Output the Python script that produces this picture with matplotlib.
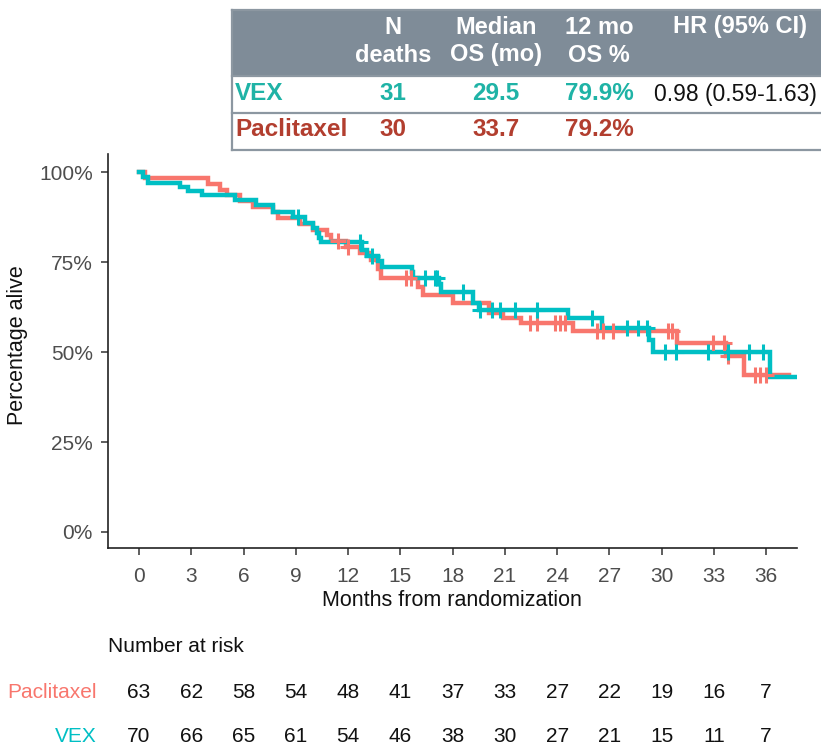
import matplotlib
matplotlib.use('Agg')
import matplotlib.pyplot as plt
import numpy as np
from matplotlib.transforms import blended_transform_factory
from matplotlib.patches import Rectangle
from matplotlib.lines import Line2D

plt.rcParams['font.family'] = ['Liberation Sans', 'DejaVu Sans']

# ---------------- data ----------------
pac_t = [0, 0.34, 3.96, 4.65, 5.05, 5.8, 6.54, 7.7, 8.0, 9.24, 10.0, 10.8, 11.0, 11.9,
         12.7, 13.3, 13.7, 13.9, 16.0, 16.3, 18.0, 20.1, 20.9, 21.9, 24.9, 30.9, 33.7, 34.7, 37.3]
pac_s = [100, 98.4, 96.8, 95.2, 93.7, 92.1, 90.5, 88.9, 87.3, 85.7, 84.1, 82.5, 80.9, 79.3,
         77.7, 75.5, 73.0, 70.6, 68.2, 65.9, 63.8, 61.0, 59.6, 58.2, 56.0, 52.5, 48.8, 43.7, 43.7]
pac_cens = [11.42, 12.0, 15.3, 15.6, 22.45, 22.85, 23.88, 24.17, 24.45, 26.29, 26.64, 27.21,
            30.37, 30.6, 32.95, 33.6, 33.8, 35.36, 35.65, 36.0]

vex_t = [0, 0.23, 0.5, 2.35, 2.8, 3.6, 5.5, 6.7, 7.7, 8.84, 9.53, 10.0, 10.2, 10.35, 10.45,
         12.8, 13.1, 13.7, 13.95, 15.65, 15.75, 17.2, 17.35, 19.2, 19.5, 24.6, 26.6, 29.3, 29.5,
         36.2, 37.8]
vex_s = [100, 98.6, 97.1, 95.9, 94.9, 93.6, 92.2, 90.8, 89.1, 87.7, 86.0, 84.6, 83.2, 81.8, 80.5,
         78.3, 76.8, 75.3, 73.8, 72.2, 70.6, 69.0, 66.8, 63.6, 61.8, 59.5, 56.7, 53.5, 50.0,
         43.2, 43.2]
vex_cens = [9.13, 12.69, 13.38, 16.42, 16.99, 17.1, 18.6, 19.6, 20.26, 20.72, 21.58, 22.85,
            26.0, 28.01, 28.65, 29.16, 30.2, 30.8, 32.65, 33.8, 35.0, 35.8]

risk_times = [0, 3, 6, 9, 12, 15, 18, 21, 24, 27, 30, 33, 36]
risk_pac = [63, 62, 58, 54, 48, 41, 37, 33, 27, 22, 19, 16, 7]
risk_vex = [70, 66, 65, 61, 54, 46, 38, 30, 27, 21, 15, 11, 7]

tbl_header = ["N\ndeaths", "Median\nOS (mo)", "12 mo\nOS %", "HR (95% CI)"]
tbl_rows = ["VEX", "Paclitaxel"]
tbl_deaths = ["31", "30"]
tbl_median = ["29.5", "33.7"]
tbl_12mo = ["79.9%", "79.2%"]
tbl_hr = "0.98 (0.59-1.63)"

C_PAC = '#F8766D'
C_VEX = '#00BFC4'
T_PAC = '#B23E2F'
T_VEX = '#1FB3A6'

# ---------------- figure ----------------
W, H = 821, 751
fig = plt.figure(figsize=(W / 100, H / 100), dpi=100)

def fx(px):
    return px / W

def fy(py):
    return 1 - py / H

ax = fig.add_axes([fx(108), fy(548), fx(797) - fx(108), fy(154) - fy(548)])

def draw_group(t, s, cens, color):
    t = np.asarray(t); s = np.asarray(s)
    ax.step(t, s, where='post', color=color, lw=3.2, solid_joinstyle='miter', zorder=3)
    idx = np.searchsorted(t, cens, side='right') - 1
    ax.plot(cens, s[idx], ls='none', marker='+', ms=12, mew=2.2, color=color, zorder=4)

draw_group(pac_t, pac_s, pac_cens, C_PAC)
draw_group(vex_t, vex_s, vex_cens, C_VEX)

ax.set_xlim(-1.78, 37.77)
ax.set_ylim(-4.45, 105.1)
ax.set_xticks(risk_times)
ax.set_yticks([0, 25, 50, 75, 100])
ax.set_yticklabels(['0%', '25%', '50%', '75%', '100%'])
for sp in ['top', 'right']:
    ax.spines[sp].set_visible(False)
for sp in ['left', 'bottom']:
    ax.spines[sp].set_linewidth(1.2)
    ax.spines[sp].set_color('#222222')
ax.tick_params(axis='both', length=5, width=1.1, color='#333333',
               labelcolor='#4D4D4D', labelsize=15)
ax.tick_params(axis='x', pad=9)
ax.tick_params(axis='y', pad=6)

fig.text(fx(452), fy(600), 'Months from randomization', ha='center', va='center',
         fontsize=15.5, color='#111111')
fig.text(fx(18), fy(345), 'Percentage alive', ha='center', va='center', rotation=90,
         fontsize=15.5, color='#111111')

# ---------------- number at risk ----------------
tr = blended_transform_factory(ax.transData, fig.transFigure)
fig.text(fx(108), fy(646), 'Number at risk', ha='left', va='center', fontsize=15, color='#111111')
fig.text(fx(97), fy(693), 'Paclitaxel', ha='right', va='center', fontsize=15, color=C_PAC)
fig.text(fx(97), fy(737), 'VEX', ha='right', va='center', fontsize=15, color=C_VEX)
for tt, a, b in zip(risk_times, risk_pac, risk_vex):
    fig.text(tt, fy(693), str(a), transform=tr, ha='center', va='center', fontsize=15, color='#111111')
    fig.text(tt, fy(737), str(b), transform=tr, ha='center', va='center', fontsize=15, color='#111111')

# ---------------- summary table ----------------
x0, x1 = 232, 830
y_top, y_hdr, y_mid, y_bot = 10, 76, 113, 150
border = '#8C97A1'
fig.patches.append(Rectangle((fx(x0), fy(y_hdr)), fx(x1) - fx(x0), fy(y_top) - fy(y_hdr),
                             transform=fig.transFigure, facecolor='#7F8C98', edgecolor='none', zorder=1))
for yy in [y_top, y_hdr, y_mid, y_bot]:
    fig.lines.append(Line2D([fx(x0), fx(x1)], [fy(yy), fy(yy)], transform=fig.transFigure,
                            color=border, lw=1.6, zorder=2))
fig.lines.append(Line2D([fx(x0), fx(x0)], [fy(y_top), fy(y_bot)], transform=fig.transFigure,
                        color=border, lw=1.6, zorder=2))

col_x = [393, 496, 599, 740]
for cx, htxt in zip(col_x, tbl_header):
    if '\n' in htxt:
        l1, l2 = htxt.split('\n')
        fig.text(fx(cx), fy(27), l1, ha='center', va='center', fontsize=17, fontweight='bold', color='white')
        fig.text(fx(cx), fy(55), l2, ha='center', va='center', fontsize=17, fontweight='bold', color='white')
    else:
        fig.text(fx(cx), fy(27), htxt, ha='center', va='center', fontsize=17, fontweight='bold', color='white')

row_y = [94, 130]
row_col = [T_VEX, T_PAC]
for i in range(2):
    y = fy(row_y[i])
    c = row_col[i]
    fig.text(fx(235), y, tbl_rows[i], ha='left', va='center', fontsize=17.5, fontweight='bold', color=c)
    fig.text(fx(col_x[0]), y, tbl_deaths[i], ha='center', va='center', fontsize=17.5, fontweight='bold', color=c)
    fig.text(fx(col_x[1]), y, tbl_median[i], ha='center', va='center', fontsize=17.5, fontweight='bold', color=c)
    fig.text(fx(col_x[2]), y, tbl_12mo[i], ha='center', va='center', fontsize=17.5, fontweight='bold', color=c)
fig.text(fx(735), fy(row_y[0]), tbl_hr, ha='center', va='center', fontsize=16.5, color='#111111')

fig.savefig('out.png', dpi=100)
